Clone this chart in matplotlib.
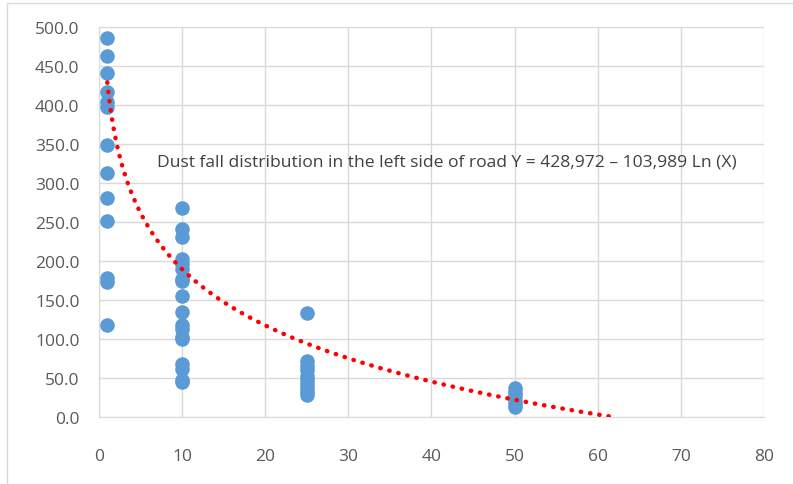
import matplotlib.pyplot as plt
import numpy as np
from matplotlib.patches import Rectangle

# distance from road (m) and dust fall values
y1 = [486, 463, 441, 417, 404, 397, 349, 313, 281, 251, 178, 173, 118]
x1 = [1] * len(y1)
y10 = [268, 241, 231, 203, 196, 190, 177, 175, 155, 135, 118, 113, 103, 100, 68, 62, 48, 45]
x10 = [10] * len(y10)
y25 = [133, 72, 66, 60, 52, 47, 42, 37, 32, 28]
x25 = [25] * len(y25)
y50 = [37, 32, 28, 22, 17, 13]
x50 = [50] * len(y50)

a, b = 428.972, 103.989
label = "Dust fall distribution in the left side of road Y = 428,972 \u2013 103,989 Ln (X)"

x = np.array(x1 + x10 + x25 + x50)
y = np.array(y1 + y10 + y25 + y50)

plt.rcParams['font.family'] = ['Open Sans', 'DejaVu Sans']

fig = plt.figure(figsize=(7.93, 4.85), dpi=100)
ax = fig.add_axes([0.1248, 0.1381, 0.8386, 0.8042])

ax.scatter(x, y, s=110, color='#5B9BD5', zorder=3, linewidths=0)

xt = np.linspace(1, np.exp(a / b), 300)
ax.plot(xt, a - b * np.log(xt), color='red', linestyle=(0, (0.1, 2.0)),
        linewidth=3.2, dash_capstyle='round', zorder=4)

ax.text(7, 328, label, fontsize=12.6, color='#404040', va='center', zorder=5)

ax.set_xlim(0, 80)
ax.set_ylim(0, 500)
ax.set_xticks(range(0, 81, 10))
ax.set_yticks(range(0, 501, 50))
ax.set_yticklabels([f"{v:.1f}" for v in range(0, 501, 50)])
ax.grid(True, color='#d9d9d9', linewidth=1)
ax.set_axisbelow(True)
for s in ['top', 'right']:
    ax.spines[s].set_visible(False)
for s in ['left', 'bottom']:
    ax.spines[s].set_color('#d9d9d9')
ax.tick_params(length=0, labelsize=12.5, labelcolor='#595959')
ax.tick_params(axis='y', pad=14)
ax.tick_params(axis='x', pad=22)

fig.patches.append(Rectangle((7 / 793, -0.1), 1.2, 1 - 4 / 485 + 0.1,
                             transform=fig.transFigure, fill=False,
                             edgecolor='#d9d9d9', linewidth=1))

fig.savefig('out.png', dpi=100)
